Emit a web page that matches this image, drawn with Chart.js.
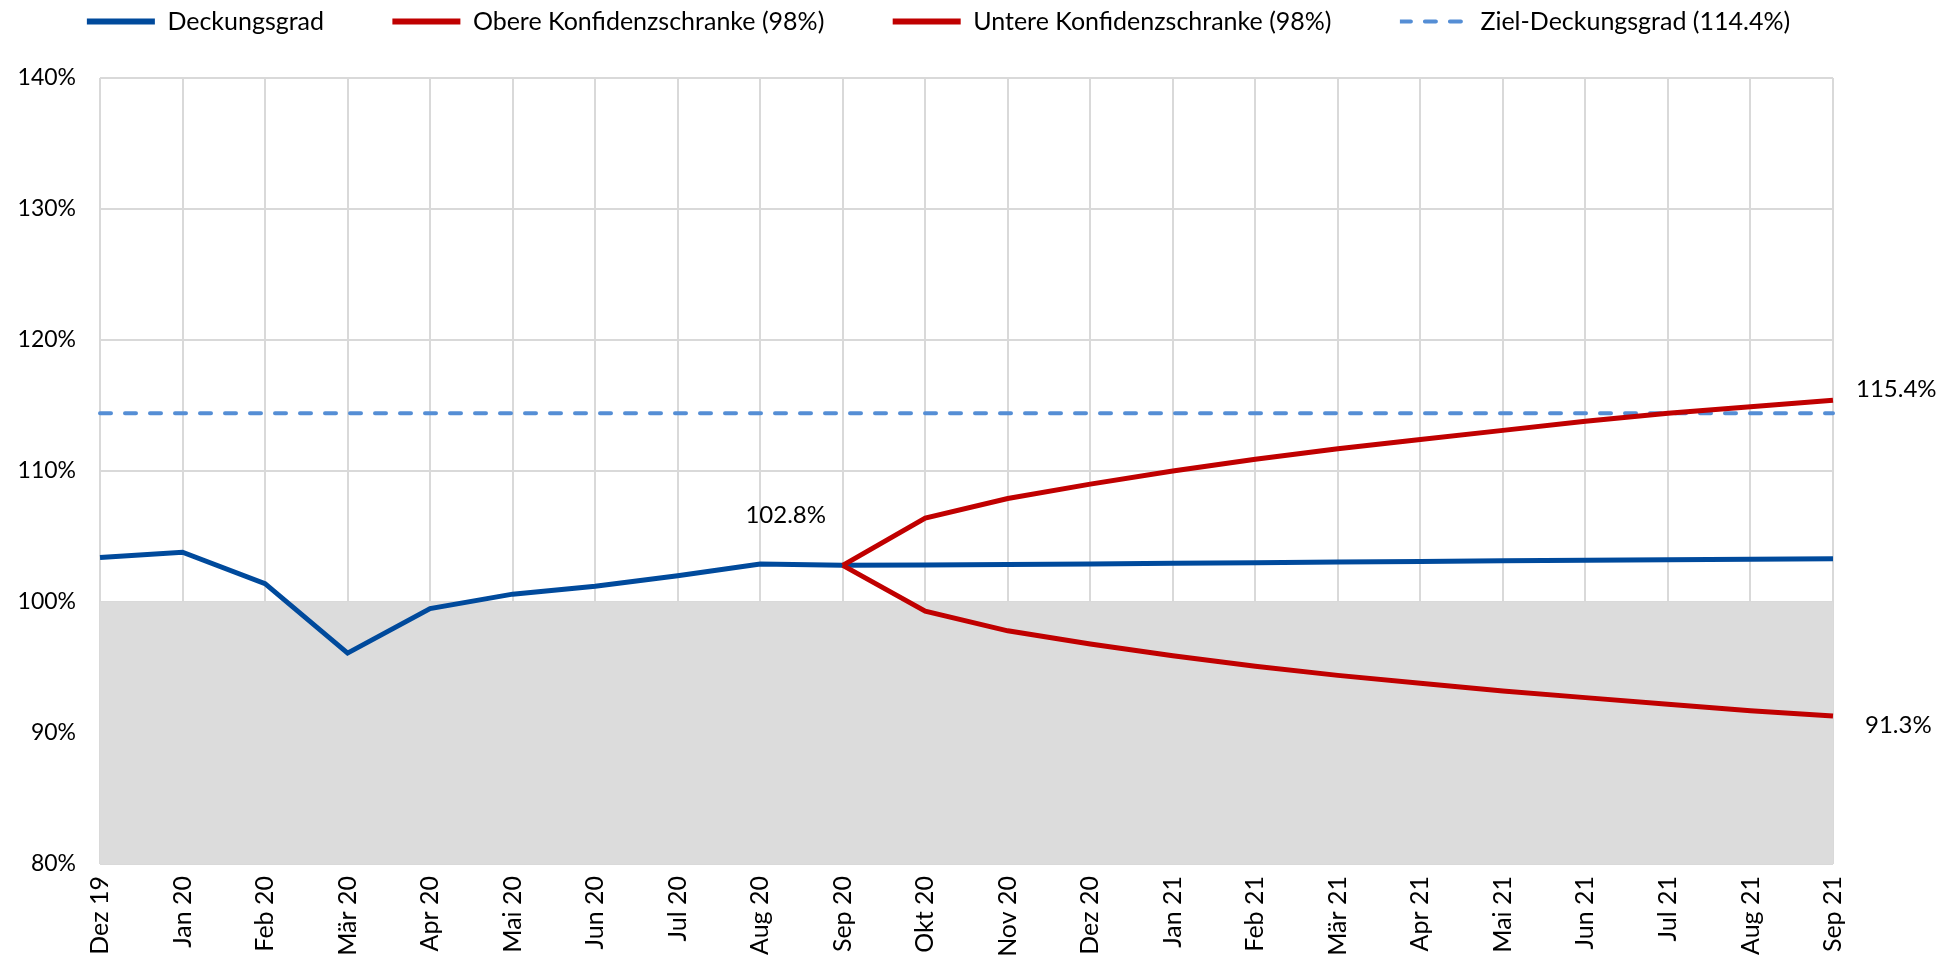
<!DOCTYPE html>
<html>
<head>
<meta charset="utf-8">
<script src="https://cdn.jsdelivr.net/npm/chart.js@4.4.1/dist/chart.umd.min.js"></script>
<style>
  html, body { margin: 0; padding: 0; background: #fff; }
</style>
</head>
<body>
<canvas id="chart" width="1959" height="959"></canvas>
<script>
const months = ['Dez 19', 'Jan 20', 'Feb 20', 'Mär 20', 'Apr 20', 'Mai 20', 'Jun 20', 'Jul 20',
  'Aug 20', 'Sep 20', 'Okt 20', 'Nov 20', 'Dez 20', 'Jan 21', 'Feb 21', 'Mär 21', 'Apr 21',
  'Mai 21', 'Jun 21', 'Jul 21', 'Aug 21', 'Sep 21'];

const deckungsgrad = [103.4, 103.8, 101.4, 96.1, 99.5, 100.6, 101.2, 102.0, 102.9, 102.8,
  102.82, 102.86, 102.9, 102.95, 103.0, 103.05, 103.1, 103.14, 103.18, 103.22, 103.26, 103.3];
const obereSchranke = [null, null, null, null, null, null, null, null, null, 102.8,
  106.4, 107.9, 109.0, 110.0, 110.9, 111.7, 112.4, 113.1, 113.8, 114.4, 114.9, 115.4];
const untereSchranke = [null, null, null, null, null, null, null, null, null, 102.8,
  99.3, 97.8, 96.8, 95.9, 95.1, 94.4, 93.8, 93.2, 92.7, 92.2, 91.7, 91.3];
const zielDeckungsgrad = 114.4;
const unterdeckung = 100;   // grey band below 100%
const yMin = 80, yMax = 140, yStep = 10;

const pct = v => v.toFixed(1) + '%';

// value labels
const valueLabels = {
  id: 'valueLabels',
  afterDatasetsDraw(chart) {
    const { ctx, scales: { x, y } } = chart;
    const last = months.length - 1;
    const split = obereSchranke.findIndex(v => v !== null);
    ctx.save();
    ctx.font = '24px Lato';
    ctx.fillStyle = '#000';
    ctx.textBaseline = 'middle';
    ctx.textAlign = 'center';
    ctx.fillText(pct(deckungsgrad[split]), x.getPixelForValue(split) - 57, y.getPixelForValue(deckungsgrad[split]) - 50);
    ctx.textAlign = 'left';
    ctx.fillText(pct(obereSchranke[last]), x.getPixelForValue(last) + 23, y.getPixelForValue(obereSchranke[last]) - 11);
    ctx.fillText(pct(untereSchranke[last]), x.getPixelForValue(last) + 32, y.getPixelForValue(untereSchranke[last]) + 9);
    ctx.restore();
  }
};

// extra room between legend and plot, legend nudged right
const legendGap = {
  id: 'legendGap',
  beforeLayout(chart) {
    const lg = chart.legend;
    if (lg && !lg._gap) {
      const fit = lg.fit;
      lg.fit = function () {
        fit.apply(this, arguments);
        this.height += 34;
        if (this.lineWidths) this.lineWidths[0] -= 44;
      };
      lg._gap = true;
    }
  }
};

Chart.defaults.font.family = 'Lato';
Chart.defaults.font.size = 24;
Chart.defaults.color = '#000';

new Chart(document.getElementById('chart'), {
  type: 'line',
  data: {
    labels: months,
    datasets: [
      {
        label: 'Deckungsgrad',
        data: deckungsgrad,
        borderColor: '#004A9C',
        backgroundColor: '#004A9C',
        borderWidth: 5,
        pointRadius: 0,
        order: 1
      },
      {
        label: 'Obere Konfidenzschranke (98%)',
        data: obereSchranke,
        borderColor: '#C00000',
        backgroundColor: '#C00000',
        borderWidth: 5,
        pointRadius: 0,
        order: 0
      },
      {
        label: 'Untere Konfidenzschranke (98%)',
        data: untereSchranke,
        borderColor: '#C00000',
        backgroundColor: '#C00000',
        borderWidth: 5,
        pointRadius: 0,
        order: 0
      },
      {
        label: 'Ziel-Deckungsgrad (114.4%)',
        data: months.map(() => zielDeckungsgrad),
        borderColor: '#558ED5',
        backgroundColor: '#558ED5',
        borderWidth: 4,
        borderDash: [11, 14],
        borderCapStyle: 'round',
        pointRadius: 0,
        order: 2
      },
      {
        label: 'Unterdeckung',
        data: months.map(() => unterdeckung),
        borderWidth: 0,
        backgroundColor: '#DCDCDC',
        fill: 'start',
        pointRadius: 0,
        order: 3
      }
    ]
  },
  options: {
    responsive: false,
    animation: false,
    layout: { padding: { top: 0, right: 126, left: 0, bottom: 0 } },
    plugins: {
      tooltip: { enabled: false },
      legend: {
        position: 'top',
        labels: {
          boxWidth: 68,
          boxHeight: 0,
          padding: 9,
          font: { size: 25 },
          filter: item => item.text !== 'Unterdeckung',
          sort: (a, b) => a.datasetIndex - b.datasetIndex,
          generateLabels(chart) {
            const items = Chart.defaults.plugins.legend.labels.generateLabels(chart);
            return items.map(it => {
              if (it.datasetIndex < 3) {
                it.text = it.text + '\u2003\u2003\u2003\u2009';
                it.lineWidth = 6;
              } else {
                it.lineCap = 'round';
              }
              return it;
            });
          }
        }
      }
    },
    scales: {
      x: {
        grid: { color: '#D9D9D9', lineWidth: 2, drawTicks: false },
        border: { display: false },
        ticks: { minRotation: 90, maxRotation: 90, padding: 12, autoSkip: false, font: { size: 25 } },
        afterFit: s => { s.height = 95; }
      },
      y: {
        min: yMin,
        max: yMax,
        grid: { color: '#D9D9D9', lineWidth: 2, drawTicks: false },
        border: { display: false },
        ticks: { stepSize: yStep, padding: 24, callback: v => v + '%', font: { size: 23 } },
        afterFit: s => { s.width = 100; }
      }
    }
  },
  plugins: [valueLabels, legendGap]
});
</script>
</body>
</html>
